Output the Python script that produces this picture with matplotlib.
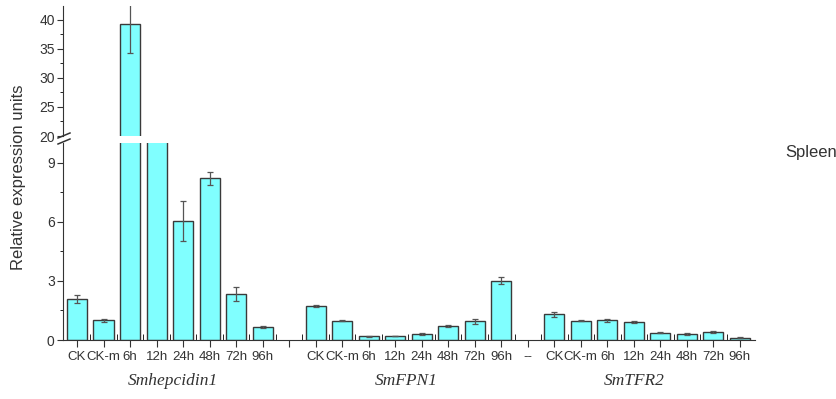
import numpy as np
import matplotlib
matplotlib.use("Agg")
import matplotlib.pyplot as plt
import matplotlib.transforms as mtrans
from matplotlib.lines import Line2D

plt.rcParams["font.family"] = ["Liberation Sans", "DejaVu Sans"]

times = ["CK", "CK-m", "6h", "12h", "24h", "48h", "72h", "96h"]
genes = ["Smhepcidin1", "SmFPN1", "SmTFR2"]

hep_val = [2.1, 1.0, 39.3, 15.0, 6.05, 8.2, 2.35, 0.65]
hep_err = [0.2, 0.07, 5.0, 0.0, 1.0, 0.35, 0.35, 0.05]
fpn_val = [1.72, 0.98, 0.18, 0.2, 0.3, 0.72, 0.95, 3.02]
fpn_err = [0.07, 0.04, 0.03, 0.02, 0.04, 0.05, 0.13, 0.2]
tfr_val = [1.31, 0.98, 0.99, 0.9, 0.37, 0.3, 0.42, 0.12]
tfr_err = [0.13, 0.04, 0.09, 0.04, 0.04, 0.03, 0.04, 0.02]

# slots: group1 0-7, blank 8, group2 9-16, "--" 17, group3 18-25
values = hep_val + [np.nan] + fpn_val + [np.nan] + tfr_val
errors = hep_err + [0] + fpn_err + [0] + tfr_err
labels = times + [""] + times + ["--"] + times
x = np.arange(len(values))

fill = "#80ffff"
edge = "#3a3a3a"
ecol = "#555555"
tcol = "#333333"

W, H = 837, 399
fig = plt.figure(figsize=(W / 100, H / 100), dpi=100)
left, right = 63 / W, 755 / W
ax_lo = fig.add_axes([left, (H - 340) / H, right - left, 197 / H])
ax_hi = fig.add_axes([left, (H - 136) / H, right - left, 130 / H])

for ax in (ax_lo, ax_hi):
    ax.bar(x, values, width=0.76, color=fill, edgecolor=edge, linewidth=1.0,
           yerr=errors, error_kw=dict(ecolor=ecol, elinewidth=0.9, capsize=2.5, capthick=0.9))
    ax.set_xlim(-0.53, 25.57)
    for s in ("top", "right"):
        ax.spines[s].set_visible(False)
    ax.spines["left"].set_color(tcol)
    ax.spines["bottom"].set_color(tcol)
    ax.tick_params(colors=tcol, labelsize=10, labelcolor=tcol)

ax_lo.set_ylim(0, 10)
ax_lo.set_yticks([0, 3, 6, 9])
ax_lo.set_yticks([1.5, 4.5, 7.5], minor=True)
ax_lo.set_xticks(x)
ax_lo.set_xticklabels(labels, fontsize=9.5)
ax_lo.set_xticks(x[:-1] + 0.5, minor=True)
ax_lo.tick_params(axis="x", which="major", direction="out", length=5, pad=3)
ax_lo.tick_params(axis="x", which="minor", direction="in", length=4)
ax_lo.tick_params(axis="y", which="major", direction="out", length=4, pad=2)
ax_lo.tick_params(axis="y", which="minor", direction="out", length=2)

ax_hi.set_ylim(20, 42.4)
ax_hi.set_yticks([20, 25, 30, 35, 40])
ax_hi.set_yticks([22.5, 27.5, 32.5, 37.5], minor=True)
ax_hi.spines["bottom"].set_visible(False)
ax_hi.set_xticks([])
ax_hi.tick_params(axis="y", which="major", direction="out", length=4, pad=2)
ax_hi.tick_params(axis="y", which="minor", direction="out", length=2)

# break marks "//" on the left spine (pixel positions)
for (x0, y0, x1, y1) in [(58, 138, 70, 133), (58, 144, 70, 139)]:
    fig.add_artist(Line2D([x0 / W, x1 / W], [(H - y0) / H, (H - y1) / H],
                          transform=fig.transFigure, color=tcol, linewidth=1.1))

fig.text(0.022, 0.556, "Relative expression units", rotation=90, ha="center", va="center",
         fontsize=12, color=tcol)

gx = [3.6, 12.4, 21.0]
blend = mtrans.blended_transform_factory(ax_lo.transData, fig.transFigure)
for g, gxx in zip(genes, gx):
    ax_lo.text(gxx, 0.045, g, transform=blend, ha="center", va="center", fontsize=12.5,
               style="italic", family="Liberation Serif", color=tcol)

fig.text(785 / W, 0.618, "Spleen", ha="left", va="center", fontsize=12, color=tcol)

fig.savefig("out.png", dpi=100)
